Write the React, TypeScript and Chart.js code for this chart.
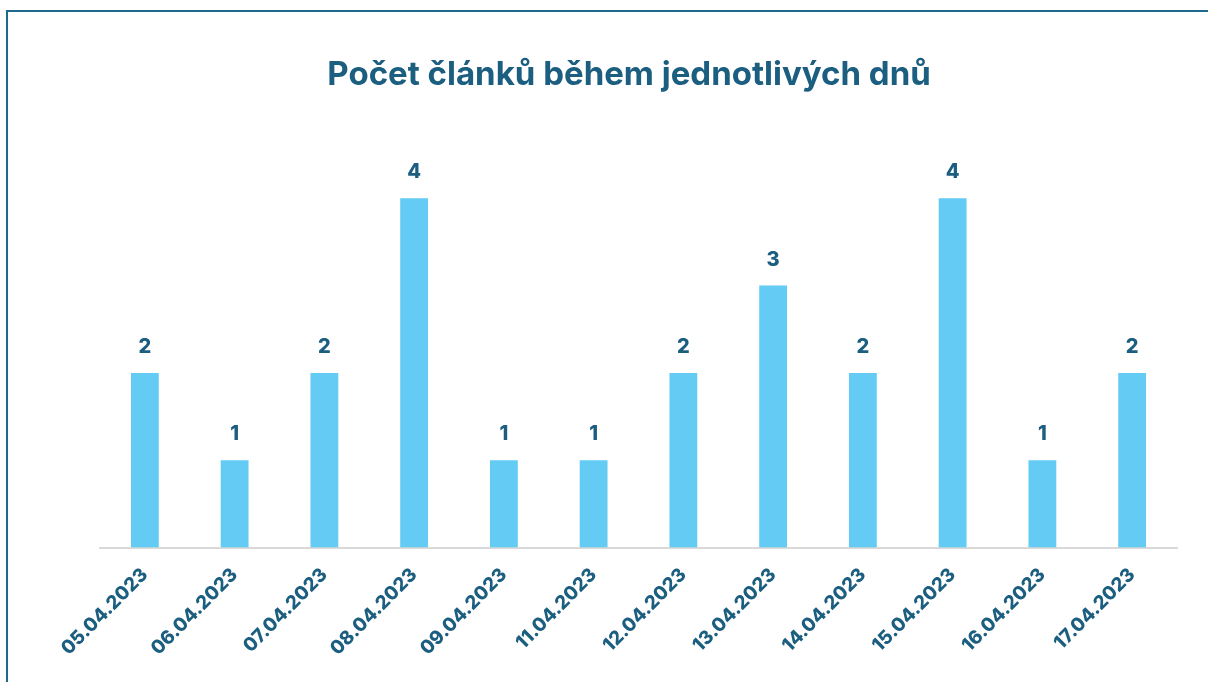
import React, { useEffect, useRef } from "react";
import { Chart, registerables } from "chart.js";

Chart.register(...registerables);

const categories = [
  "05.04.2023", "06.04.2023", "07.04.2023", "08.04.2023", "09.04.2023", "11.04.2023",
  "12.04.2023", "13.04.2023", "14.04.2023", "15.04.2023", "16.04.2023", "17.04.2023",
];
const counts = [2, 1, 2, 4, 1, 1, 2, 3, 2, 4, 1, 2];
const titleText = "Počet článků během jednotlivých dnů";

const textColor = "#1c5e80";
const barColor = "#63cbf4";

const valueLabels = {
  id: "valueLabels",
  afterDatasetsDraw(chart: any) {
    const ctx = chart.ctx;
    const meta = chart.getDatasetMeta(0);
    ctx.save();
    ctx.font = "800 20px Inter, Liberation Sans, sans-serif";
    ctx.fillStyle = textColor;
    ctx.textAlign = "center";
    ctx.textBaseline = "bottom";
    meta.data.forEach((el: any, i: number) => {
      ctx.fillText(String(chart.data.datasets[0].data[i]), el.x, el.y - 16);
    });
    // title
    ctx.font = "bold 33px Inter, Open Sans, sans-serif";
    ctx.textBaseline = "middle";
    ctx.fillText(titleText, 629, 75);
    ctx.restore();
  },
};

export default function App() {
  const ref = useRef<HTMLCanvasElement>(null);
  useEffect(() => {
    if (!ref.current) return;
    const chart = new Chart(ref.current, {
      type: "bar",
      data: {
        labels: categories,
        datasets: [
          {
            data: counts,
            backgroundColor: barColor,
            barPercentage: 0.31,
            categoryPercentage: 1,
          },
        ],
      },
      plugins: [valueLabels],
      options: {
        animation: false,
        responsive: false,
        layout: { padding: { left: 100, right: 31, top: 111, bottom: 14 } },
        plugins: {
          legend: { display: false },
          tooltip: { enabled: false },
          title: { display: false },
        },
        scales: {
          x: {
            grid: { display: false },
            border: { display: true, color: "#d9d9d9", width: 2 },
            ticks: {
              color: textColor,
              font: { family: "Inter, Liberation Sans, sans-serif", size: 19, weight: "800" },
              maxRotation: 45,
              minRotation: 45,
              padding: 8,
            },
          },
          y: {
            display: false,
            min: 0,
            max: 5,
          },
        },
      },
    });
    return () => chart.destroy();
  }, []);
  return (
    <div style={{ position: "fixed", left: 0, top: 0, width: 1208, height: 682, overflow: "hidden", background: "#fff" }}>
      <div
        style={{
          position: "absolute",
          left: 6,
          top: 10,
          width: 1300,
          height: 800,
          borderTop: "2px solid #1d6a8e",
          borderLeft: "2px solid #1d6a8e",
        }}
      />
      <canvas ref={ref} width={1208} height={682} style={{ position: "absolute", left: 0, top: 0 }} />
    </div>
  );
}
